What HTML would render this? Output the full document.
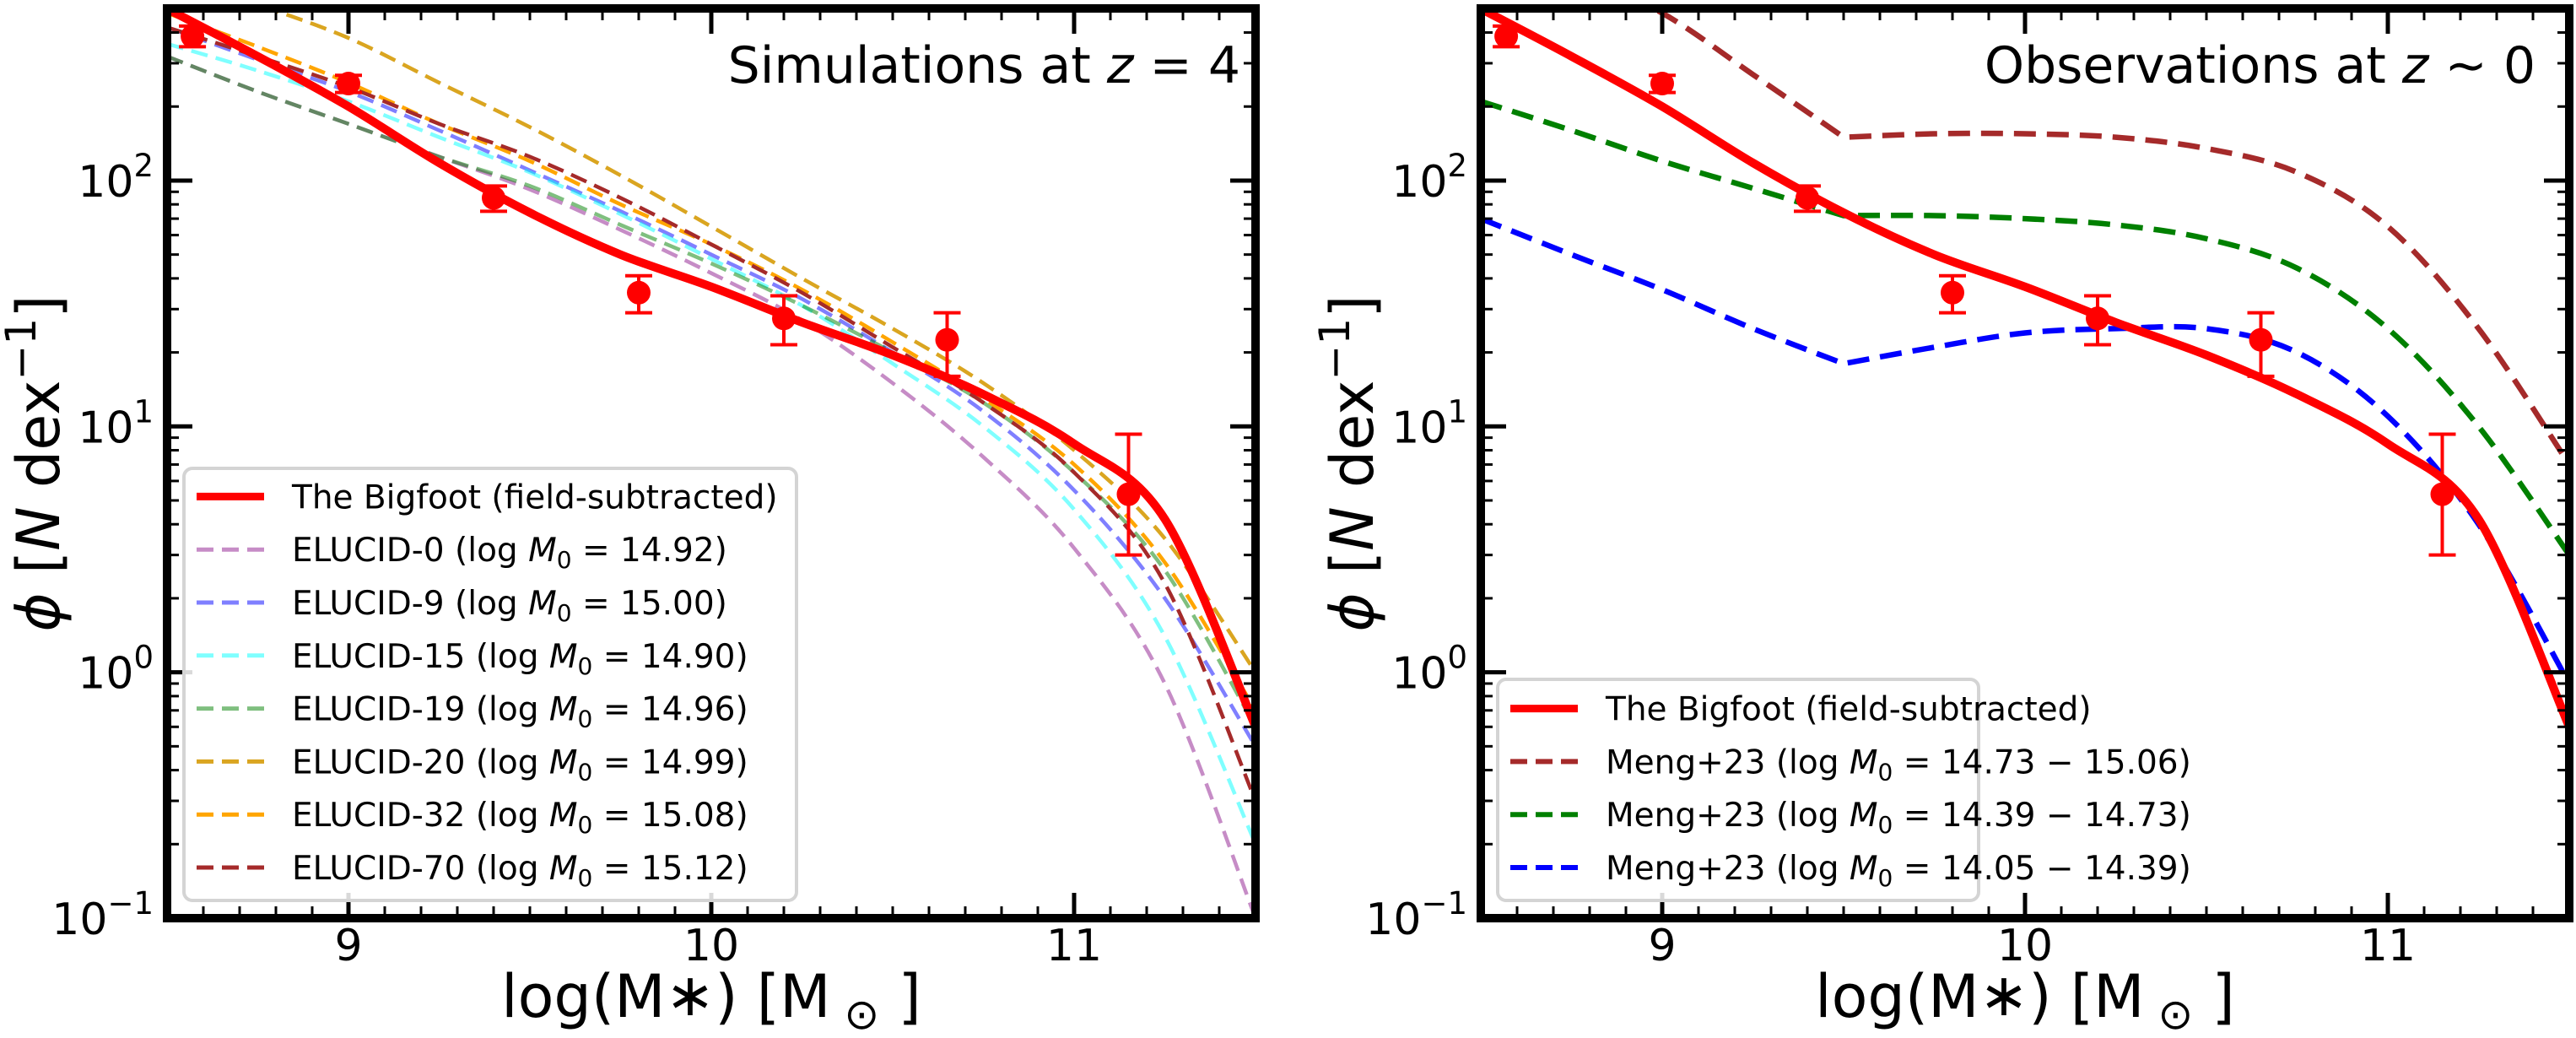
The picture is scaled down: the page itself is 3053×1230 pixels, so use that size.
<!DOCTYPE html>
<html><head><meta charset="utf-8">
<style>
html,body{margin:0;padding:0;background:#fff;}
svg{display:block;font-family:"DejaVu Sans","Liberation Sans",sans-serif;}
</style></head>
<body>
<svg id="fig" width="3053" height="1230" viewBox="0 0 3053 1230" xmlns="http://www.w3.org/2000/svg"></svg>
<script>
// ---------- data ----------
const gridX = [8.5, 8.75, 9.0, 9.25, 9.5, 9.75, 10.0, 10.25, 10.5, 10.75, 11.0, 11.25, 11.5];
const bigfootCurve = [500, 320, 200, 118, 74, 50, 37, 26.5, 19.5, 13.5, 8.5, 4.2, 0.6];
const obsX = [8.57, 9.0, 9.4, 9.8, 10.2, 10.65, 11.15];
const obsY = [386, 248, 85, 35, 27.5, 22.5, 5.3];
const obsLo = [350, 228, 75, 29, 21.5, 16, 3.0];
const obsHi = [425, 268, 95, 41, 34, 29, 9.3];

const elucidNames = ["ELUCID-0", "ELUCID-9", "ELUCID-15", "ELUCID-19", "ELUCID-20", "ELUCID-32", "ELUCID-70"];
const elucidM0 = ["14.92", "15.00", "14.90", "14.96", "14.99", "15.08", "15.12"];
const elucid0 = [320, 230, 170, 125, 92, 63, 42, 27, 15, 7.5, 3.2, 0.9, 0.1];
const elucid9 = [420, 310, 230, 160, 110, 75, 50, 33, 20, 11.5, 5.5, 2.0, 0.5];
const elucid15 = [360, 280, 210, 150, 108, 73, 48, 31, 18, 10, 4.6, 1.4, 0.2];
const elucid19 = [320, 230, 170, 125, 95, 66, 46, 31, 20, 12.5, 6.5, 2.6, 0.6];
const elucid20 = [700, 520, 380, 250, 165, 105, 65, 40, 25, 15, 8, 3.5, 1.0];
const elucid32 = [480, 350, 250, 170, 120, 80, 55, 36, 22, 13, 7, 2.8, 0.7];
const elucid70 = [420, 320, 240, 170, 125, 85, 55, 35, 21, 12.5, 6.5, 2.3, 0.3];

const mengLabels = ["14.73 \u2212 15.06", "14.39 \u2212 14.73", "14.05 \u2212 14.39"];
const mengHigh = [1100, 700, 480, 270, 150, 155, 155, 150, 135, 108, 65, 25, 7];
const mengMid = [210, 160, 120, 93, 72, 72, 70, 66, 58, 44, 25, 10, 3];
const mengLow = [70, 50, 36, 25, 18, 21, 24, 25, 25, 20, 11, 4, 0.9];
const mengKink = 4;

const yTickExp = [-1, 0, 1, 2];
const xTickVals = [9, 10, 11];

// ---------- layout ----------
const NS = "http://www.w3.org/2000/svg";
const svg = document.getElementById("fig");
const X0 = 8.5, X1 = 11.5, LY0 = -1, LY1 = 2.7;
const TOP = 10, BOT = 1088, W = 1290;
function mk(tag, attrs, parent) {
  const e = document.createElementNS(NS, tag);
  for (const k in attrs) e.setAttribute(k, attrs[k]);
  (parent || svg).appendChild(e);
  return e;
}
function xs(left, x) { return left + (x - X0) / (X1 - X0) * W; }
function ys(v) { return BOT - (Math.log10(v) - LY0) / (LY1 - LY0) * (BOT - TOP); }

function panel(left, name, clipId) {
  const g = mk("g", {});
  
  
  const defs = mk("defs", {}, g);
  const cp = mk("clipPath", { id: clipId }, defs);
  mk("rect", { x: left, y: TOP, width: W, height: BOT - TOP }, cp);
  return g;
}

function smoothPath(pts, breaks) {
  let d = "M" + pts[0][0].toFixed(1) + "," + pts[0][1].toFixed(1);
  for (let i = 0; i < pts.length - 1; i++) {
    const p1 = pts[i], p2 = pts[i + 1];
    const p0 = (i > 0 && !breaks.includes(i)) ? pts[i - 1] : p1;
    const p3 = (i + 2 < pts.length && !breaks.includes(i + 1)) ? pts[i + 2] : p2;
    const c1 = [p1[0] + (p2[0] - p0[0]) / 6, p1[1] + (p2[1] - p0[1]) / 6];
    const c2 = [p2[0] - (p3[0] - p1[0]) / 6, p2[1] - (p3[1] - p1[1]) / 6];
    d += "C" + c1[0].toFixed(1) + "," + c1[1].toFixed(1) + " " + c2[0].toFixed(1) + "," + c2[1].toFixed(1) + " " + p2[0].toFixed(1) + "," + p2[1].toFixed(1);
  }
  return d;
}

function drawSeries(g, left, clipId, xsArr, vals, color, width, dash, opacity, name, breaks) {
  const pts = xsArr.map((x, i) => [xs(left, x), ys(vals[i])]);
  const p = mk("path", { d: smoothPath(pts, breaks || []), fill: "none", stroke: color, "stroke-width": width, "clip-path": "url(#" + clipId + ")", "stroke-linejoin": "round" }, g);
  if (dash) p.setAttribute("stroke-dasharray", dash);
  if (opacity) p.setAttribute("stroke-opacity", opacity);
  
  
}

function drawPoints(g, left) {
  obsX.forEach((x, i) => {
    const cx = xs(left, x);
    const eg = mk("g", {}, g);
    
    
    mk("line", { x1: cx, x2: cx, y1: ys(obsLo[i]), y2: ys(obsHi[i]), stroke: "red", "stroke-width": 4 }, eg);
    mk("line", { x1: cx - 16, x2: cx + 16, y1: ys(obsLo[i]), y2: ys(obsLo[i]), stroke: "red", "stroke-width": 4 }, eg);
    mk("line", { x1: cx - 16, x2: cx + 16, y1: ys(obsHi[i]), y2: ys(obsHi[i]), stroke: "red", "stroke-width": 4 }, eg);
    mk("circle", { cx: cx, cy: ys(obsY[i]), r: 14, fill: "red" }, eg);
  });
}

function drawAxes(g, left) {
  const right = left + W;
  for (let k = 85; k <= 115; k++) {
    const x = k / 10;
    const isMajor = (k % 10 === 0);
    const px = xs(left, x);
    const len = isMajor ? 30 : 14, sw = isMajor ? 5 : 3;
    mk("line", { x1: px, x2: px, y1: BOT, y2: BOT - len, stroke: "#000", "stroke-width": sw }, g);
    mk("line", { x1: px, x2: px, y1: TOP, y2: TOP + len, stroke: "#000", "stroke-width": sw }, g);
  }
  for (let e = -1; e <= 2; e++) {
    for (let m = 1; m <= 9; m++) {
      const v = m * Math.pow(10, e);
      if (Math.log10(v) > LY1) continue;
      const py = ys(v);
      const len = m === 1 ? 30 : 14, sw = m === 1 ? 5 : 3;
      mk("line", { x1: left, x2: left + len, y1: py, y2: py, stroke: "#000", "stroke-width": sw }, g);
      mk("line", { x1: right, x2: right - len, y1: py, y2: py, stroke: "#000", "stroke-width": sw }, g);
    }
  }
  const fr = mk("rect", { x: left, y: TOP, width: W, height: BOT - TOP, fill: "none", stroke: "#000", "stroke-width": 10 }, g);
  
  
  xTickVals.forEach(v => {
    const t = mk("text", { x: xs(left, v), y: 1138, "font-size": 52, "text-anchor": "middle" }, g);
    t.textContent = v;
    
    
  });
  yTickExp.forEach(e => {
    const t = mk("text", { x: left - 16, y: ys(Math.pow(10, e)) + 19, "font-size": 52, "text-anchor": "end" }, g);
    t.innerHTML = '10<tspan dy="-24" font-size="37">' + (e < 0 ? "\u2212" + (-e) : e) + '</tspan>';
    
    
  });
  const xl = mk("text", { x: left + W / 2, y: 1205, "font-size": 70, "text-anchor": "middle" }, g);
  xl.innerHTML = 'log(M<tspan dy="-2">\u2217</tspan><tspan dy="2">) [M</tspan><tspan dy="14" font-size="50"> \u2299</tspan><tspan dy="-14"> ]</tspan>';
  
  
  const yl = mk("text", { x: 0, y: 0, "font-size": 70, "text-anchor": "middle", transform: "translate(" + (left - 128) + "," + ((TOP + BOT) / 2) + ") rotate(-90)" }, g);
  yl.innerHTML = '<tspan font-style="italic">\u03d5</tspan> [<tspan font-style="italic">N</tspan> dex<tspan dy="-28" font-size="50">\u22121</tspan><tspan dy="28">]</tspan>';
  
  
}

function legend(g, left, top, right, rows) {
  const lg = mk("g", {}, g);
  
  
  mk("rect", { x: left, y: top, width: right - left, height: 1067 - top, rx: 10, fill: "#fff", "fill-opacity": 0.85, stroke: "#d4d4d4", "stroke-width": 4 }, lg);
  rows.forEach((r, i) => {
    const y = 1028 - (rows.length - 1 - i) * 62.8;
    const eg = mk("g", {}, lg);
    
    
    const l = mk("line", { x1: left + 15, x2: left + 95, y1: y, y2: y, stroke: r.color, "stroke-width": r.w }, eg);
    if (r.dash) l.setAttribute("stroke-dasharray", r.dash);
    if (r.op) l.setAttribute("stroke-opacity", r.op);
    const t = mk("text", { x: left + 128, y: y + 14, "font-size": 39 }, eg);
    t.innerHTML = r.html;
  });
}
function mlabel(prefix, val) {
  return prefix + ' (log<tspan font-style="italic"> M</tspan><tspan dy="8" font-size="28">0</tspan><tspan dy="-8"> = ' + val + ')</tspan>';
}

// ---------- left panel ----------
const L1 = 198;
const g1 = panel(L1, "left-panel-simulations", "c1");
const elucidSeries = [elucid0, elucid9, elucid15, elucid19, elucid20, elucid32, elucid70];
const elucidColors = ["#a040a0", "#0000ff", "#00ffff", "#008000", "#daa520", "#ffa500", "#a52a2a"];
const elucidOp = [0.6, 0.5, 0.5, 0.5, 1, 1, 1];
elucidSeries.forEach((s, i) => drawSeries(g1, L1, "c1", gridX, s, elucidColors[i], 4.5, "20,10", elucidOp[i], "elucid-line-" + i));
drawSeries(g1, L1, "c1", gridX, bigfootCurve, "red", 10, null, null, "bigfoot-line");
drawPoints(g1, L1);
drawAxes(g1, L1);
const t1 = mk("text", { x: 1470, y: 98, "font-size": 60, "text-anchor": "end" }, g1);
t1.innerHTML = 'Simulations at <tspan font-style="italic">z</tspan> = 4';


const rows1 = [{ color: "red", w: 9, html: "The Bigfoot (field-subtracted)" }];
elucidNames.forEach((n, i) => rows1.push({ color: elucidColors[i], w: 5, dash: "20,10", op: elucidOp[i], html: mlabel(n, elucidM0[i]) }));
legend(g1, 218, 555, 944, rows1);

// ---------- right panel ----------
const L2 = 1755;
const g2 = panel(L2, "right-panel-observations", "c2");
const mengSeries = [mengHigh, mengMid, mengLow];
const mengColors = ["#a52a2a", "#008000", "#0000ff"];
mengSeries.forEach((s, i) => drawSeries(g2, L2, "c2", gridX, s, mengColors[i], 6.5, "26,13", null, "meng-line-" + i, [mengKink]));
drawSeries(g2, L2, "c2", gridX, bigfootCurve, "red", 10, null, null, "bigfoot-line");
drawPoints(g2, L2);
drawAxes(g2, L2);
const t2 = mk("text", { x: 3005, y: 98, "font-size": 60, "text-anchor": "end" }, g2);
t2.innerHTML = 'Observations at <tspan font-style="italic">z</tspan> \u223c 0';


const rows2 = [{ color: "red", w: 9, html: "The Bigfoot (field-subtracted)" }];
mengLabels.forEach((n, i) => rows2.push({ color: mengColors[i], w: 6, dash: "20,10", html: mlabel("Meng+23", n) }));
legend(g2, 1775, 805, 2345, rows2);
</script>
</body></html>
